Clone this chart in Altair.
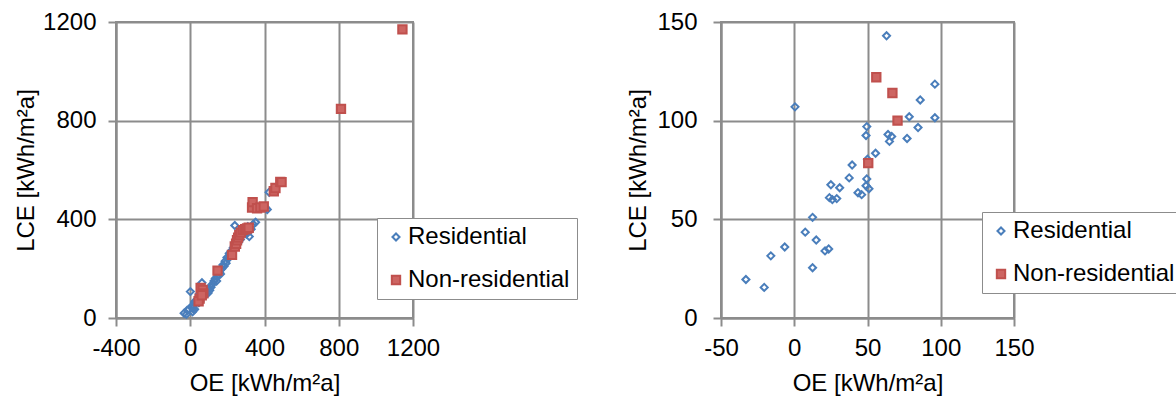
import altair as alt
import pandas as pd

FONT = "Liberation Sans"
GRID = "#8c8c8c"
TYPES = ["Residential", "Non-residential"]

# ---- right panel (zoomed) data ----
right_res_oe = [63, 0.5, 96, 86, 78.5, 96, 84.5, 49.5, 49, 64, 66.5, 65, 77, 55.5, 50,
                39.5, 37.5, 49.5, 25, 31, 49, 51, 43.5, 46, 24, 26, 29, 12.5, 7.5, 15,
                -6.5, 21, 23.5, -16, 12.5, -33, -20.5]
right_res_lce = [143, 107, 118.5, 110.5, 102, 101.5, 96.5, 97, 92.5, 93, 92, 89.5, 91, 83.5, 80.5,
                 77.5, 71, 70.5, 67.5, 66, 67, 65.5, 63.5, 62.5, 61, 60, 60.5, 51, 43.5, 39.5,
                 36, 34, 35, 31.5, 25.5, 19.5, 15.5]
right_non_oe = [56, 67, 70.5, 50.5]
right_non_lce = [122, 114, 100, 78.5]

# ---- additional points visible only in the full-range (left) panel ----
extra_res_oe = [105, 112, 120, 128, 135, 142, 150, 158, 163, 170, 176, 182, 188, 193, 198,
                204, 210, 215, 221, 226, 232, 238, 240, 246, 252, 258, 263, 270, 278, 286,
                294, 302, 310, 318, 328, 340, 352, 405, 415, 425]
extra_res_lce = [112, 125, 138, 150, 160, 150, 172, 185, 178, 200, 215, 210, 230, 222, 245,
                 240, 262, 255, 272, 265, 285, 292, 375, 300, 312, 305, 325, 318, 335, 345,
                 352, 340, 370, 330, 360, 380, 388, 448, 440, 510]
extra_non_oe = [45, 62, 147, 225, 240, 247, 252, 258, 264, 272, 284, 296, 306, 315, 333,
                336, 360, 378, 396, 450, 459, 485, 492, 812, 1143]
extra_non_lce = [68, 92, 192, 256, 290, 301, 315, 326, 336, 346, 356, 360, 363, 366, 448,
                 470, 445, 448, 452, 514, 527, 552, 551, 848, 1170]

left_x_ticks = [-400, 0, 400, 800, 1200]
left_y_ticks = [0, 400, 800, 1200]
right_x_ticks = [-50, 0, 50, 100, 150]
right_y_ticks = [0, 50, 100, 150]

FS = 24


def make_df(res_oe, res_lce, non_oe, non_lce):
    rows = [{"OE": a, "LCE": b, "type": TYPES[0]} for a, b in zip(res_oe, res_lce)]
    rows += [{"OE": a, "LCE": b, "type": TYPES[1]} for a, b in zip(non_oe, non_lce)]
    return pd.DataFrame(rows)


df_left = make_df(right_res_oe + extra_res_oe, right_res_lce + extra_res_lce,
                  right_non_oe + extra_non_oe, right_non_lce + extra_non_lce)
df_right = make_df(right_res_oe, right_res_lce, right_non_oe, right_non_lce)


def axis(values, title, lab_pad, title_pad):
    return alt.Axis(values=values, title=title, grid=True, gridColor=GRID, gridWidth=2,
                    domainColor=GRID, domainWidth=2, tickColor=GRID, tickWidth=2, tickSize=8,
                    labelFontSize=FS, titleFontSize=FS, labelFont=FONT, titleFont=FONT,
                    labelColor="black", titleColor="black", titleFontWeight="normal",
                    labelPadding=lab_pad, titlePadding=title_pad, labelFlush=False,
                    labelOverlap=False, labelExpr="'' + datum.value")


def panel(df, xdom, xvals, ydom, yvals, w, h, lx, ly, ylp, ytp):
    leg = alt.Legend(orient="none", legendX=lx, legendY=ly, title=None, labelFontSize=FS,
                     labelFont=FONT, labelColor="black", strokeColor=GRID, fillColor="white",
                     padding=7, rowPadding=19, symbolOffset=0, labelOffset=0,
                     symbolStrokeWidth=2, labelLimit=0)
    return alt.Chart(df).mark_point(opacity=1, strokeWidth=2).encode(
        x=alt.X("OE:Q", scale=alt.Scale(domain=xdom, nice=False, zero=False),
                axis=axis(xvals, "OE [kWh/m²a]", 10, 11)),
        y=alt.Y("LCE:Q", scale=alt.Scale(domain=ydom, nice=False, zero=False),
                axis=axis(yvals, "LCE [kWh/m²a]", ylp, ytp)),
        shape=alt.Shape("type:N", scale=alt.Scale(domain=TYPES, range=["diamond", "square"]), legend=leg),
        stroke=alt.Stroke("type:N", scale=alt.Scale(domain=TYPES, range=["#4a7ebb", "#c0504d"]), legend=leg),
        fill=alt.Fill("type:N", scale=alt.Scale(domain=TYPES, range=["transparent", "#cd6562"]), legend=leg),
        size=alt.Size("type:N", scale=alt.Scale(type="ordinal", domain=TYPES, range=[50, 70]), legend=leg),
    ).properties(width=w, height=h)


left = panel(df_left, [-400, 1200], left_x_ticks, [0, 1200], left_y_ticks,
             297, 296, 261, 196, 12, 4)
right = panel(df_right, [-50, 150], right_x_ticks, [0, 150], right_y_ticks,
              293, 296, 261, 190, 16, 6)

chart = alt.hconcat(left, right, spacing=46).resolve_scale(
    x="independent", y="independent", shape="independent", stroke="independent",
    fill="independent", size="independent"
).resolve_legend(
    shape="independent", stroke="independent", fill="independent", size="independent"
).configure_view(stroke=GRID, strokeWidth=2).properties(
    autosize=alt.AutoSizeParams(type="none"),
    padding={"left": 116, "top": 22, "right": 1060, "bottom": 375}
)

chart.save("out.html", embed_options={"renderer": "svg", "actions": False})
